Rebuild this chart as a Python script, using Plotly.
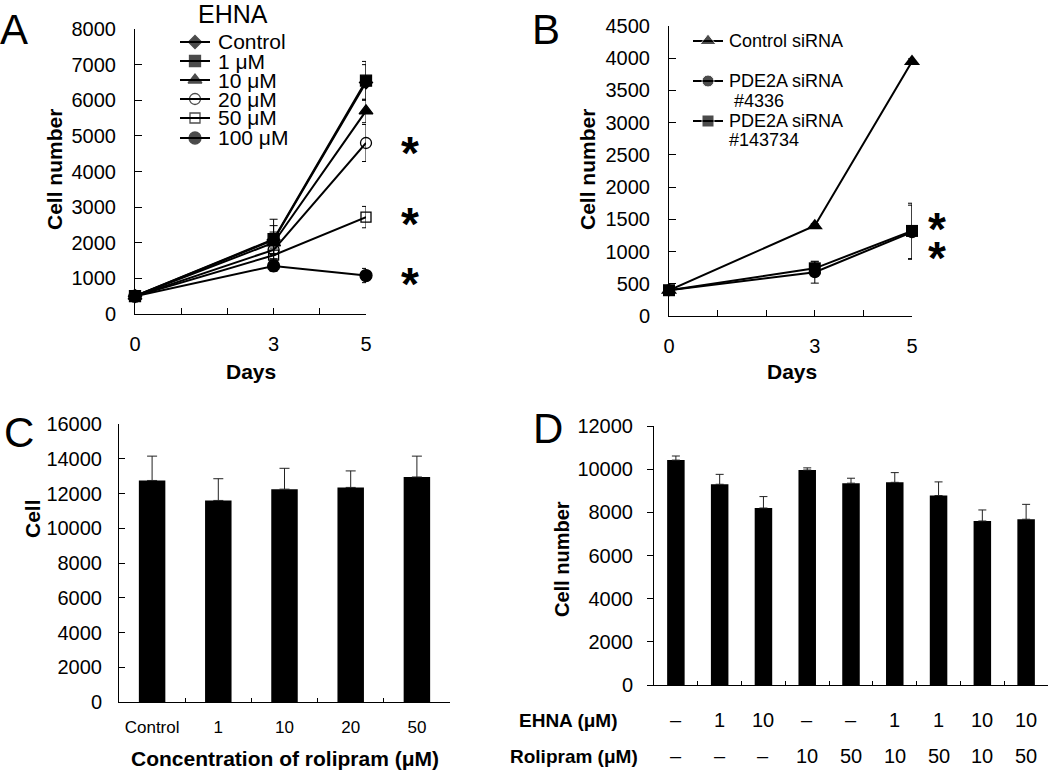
import plotly.graph_objects as go

FONT = "Liberation Sans, Arial, sans-serif"
W, H = 1050, 772

# ---- data -------------------------------------------------------------
days = [0, 3, 5]

# panel A: EHNA dose series
ehna_names = ["Control", "1 μM", "10 μM", "20 μM", "50 μM", "100 μM"]
ehna_values = [
    [500, 2080, 6500],
    [500, 2100, 6550],
    [500, 2000, 5700],
    [500, 1800, 4800],
    [500, 1650, 2720],
    [500, 1350, 1080],
]
ehna_errors = [
    [0, 400, 500],
    [0, 560, 540],
    [0, 300, 330],
    [0, 250, 520],
    [0, 200, 300],
    [0, 150, 200],
]
ehna_symbols = ["diamond", "square", "triangle-up", "circle-open", "square-open", "circle"]
ehna_sizes = [10, 11, 12, 11, 10, 12]
ehna_star_levels = [4700, 2700, 1000]

# panel B: siRNA
sirna_names = [["Control siRNA"], ["PDE2A siRNA", " #4336"], ["PDE2A siRNA", "#143734"]]
sirna_values = [
    [400, 1400, 3950],
    [400, 680, 1300],
    [400, 740, 1320],
]
sirna_errors = [
    [0, 30, 40],
    [0, 170, 420],
    [0, 100, 430],
]
sirna_symbols = ["triangle-up", "circle", "square"]
sirna_sizes = [14, 12, 12]
sirna_star_levels = [1440, 990]

# panel C: rolipram
rolipram_conc = ["Control", "1", "10", "20", "50"]
rolipram_cells = [12750, 11600, 12250, 12350, 12950]
rolipram_err = [1400, 1250, 1200, 950, 1200]

# panel D: EHNA + rolipram
combo_ehna = ["–", "1", "10", "–", "–", "1", "1", "10", "10"]
combo_rolipram = ["–", "–", "–", "10", "50", "10", "50", "10", "50"]
combo_cells = [10420, 9300, 8200, 9960, 9350, 9390, 8780, 7600, 7680]
combo_err = [190, 460, 530, 100, 230, 450, 630, 510, 690]


def px(x):
    return x / W


def py(y):
    return 1 - y / H


fig = go.Figure()

# panel A lines
for name, vals, err, sym, size in zip(ehna_names, ehna_values, ehna_errors, ehna_symbols, ehna_sizes):
    fig.add_trace(go.Scatter(
        x=days, y=vals, name=name, mode="lines+markers",
        line=dict(color="black", width=2),
        marker=dict(symbol=sym, size=size, color="black", line=dict(color="black", width=1.3)),
        error_y=dict(type="data", array=err, color="black", thickness=1, width=4),
        xaxis="x", yaxis="y", cliponaxis=False, showlegend=False,
    ))

# panel B lines
for name, vals, err, sym, size in zip(sirna_names, sirna_values, sirna_errors, sirna_symbols, sirna_sizes):
    fig.add_trace(go.Scatter(
        x=days, y=vals, name=" ".join(name), mode="lines+markers",
        line=dict(color="black", width=2),
        marker=dict(symbol=sym, size=size, color="black"),
        error_y=dict(type="data", array=err, color="black", thickness=1, width=4),
        xaxis="x2", yaxis="y2", cliponaxis=False, showlegend=False,
    ))

# panel C bars
fig.add_trace(go.Bar(
    x=rolipram_conc, y=rolipram_cells, width=0.4, marker_color="black",
    error_y=dict(type="data", array=rolipram_err, arrayminus=[0] * len(rolipram_err),
                 symmetric=False, color="#222", thickness=1, width=5),
    xaxis="x3", yaxis="y3", showlegend=False,
))

# panel D bars
combo_cats = [f"{e}/{r}" for e, r in zip(combo_ehna, combo_rolipram)]
fig.add_trace(go.Bar(
    x=combo_cats, y=combo_cells, width=0.4, marker_color="black",
    error_y=dict(type="data", array=combo_err, arrayminus=[0] * len(combo_err),
                 symmetric=False, color="#222", thickness=1, width=4),
    xaxis="x4", yaxis="y4", showlegend=False,
))

# hand-drawn legends (helper axis in pixel units)
ann = []


def text(t, x, y, size, bold=False, angle=0, xanchor="center", xref="paper", yref="paper"):
    ann.append(dict(
        text=f"<b>{t}</b>" if bold else t, x=x, y=y, xref=xref, yref=yref,
        xanchor=xanchor, yanchor="middle", textangle=angle, showarrow=False,
        font=dict(family=FONT, size=size, color="black"),
    ))


leg_a_rows = [42, 61, 80, 99, 118, 138]
for name, sym, size, row in zip(ehna_names, ehna_symbols, ehna_sizes, leg_a_rows):
    fig.add_trace(go.Scatter(
        x=[180, 195, 210], y=[row] * 3, mode="lines+markers",
        line=dict(color="black", width=2),
        marker=dict(symbol=sym, size=[0, size, 0], color="black", line=dict(color="black", width=1.3)),
        xaxis="x5", yaxis="y5", cliponaxis=False, showlegend=False, hoverinfo="skip",
    ))
    text(name, px(216), py(row), 21, xanchor="left")

leg_b_rows = [41, 81, 121]
for lines, sym, size, row in zip(sirna_names, sirna_symbols, sirna_sizes, leg_b_rows):
    fig.add_trace(go.Scatter(
        x=[693, 708, 723], y=[row] * 3, mode="lines+markers",
        line=dict(color="black", width=2),
        marker=dict(symbol=sym, size=[0, size, 0], color="black"),
        xaxis="x5", yaxis="y5", cliponaxis=False, showlegend=False, hoverinfo="skip",
    ))
    for k, line in enumerate(lines):
        text(line, px(727), py(row + 19.5 * k), 18, xanchor="left")

# titles and labels
text("EHNA", px(233), py(14), 25)
text("A", px(14), py(29), 42)
text("B", px(546), py(29), 42)
text("C", px(19), py(432), 42)
text("D", px(548), py(428), 42)

text("Cell number", px(54), py(170), 21, bold=True, angle=-90)
text("Cell number", px(587), py(170), 21, bold=True, angle=-90)
text("Cell", px(32), py(519), 21, bold=True, angle=-90)
text("Cell number", px(562), py(559), 20, bold=True, angle=-90)

text("Days", px(251), py(372), 21, bold=True)
text("Days", px(792), py(372), 21, bold=True)
text("Concentration of rolipram (μM)", px(285), py(758), 21, bold=True)

for lvl in ehna_star_levels:
    ann.append(dict(text="<b>*</b>", x=px(410), y=lvl, xref="paper", yref="y",
                    yanchor="middle", yshift=-6, showarrow=False,
                    font=dict(family=FONT, size=46, color="black")))
for lvl in sirna_star_levels:
    ann.append(dict(text="<b>*</b>", x=px(948), y=lvl, xref="paper", yref="y2",
                    yanchor="middle", yshift=-6, showarrow=False,
                    font=dict(family=FONT, size=46, color="black")))

# D treatment rows
text("EHNA (μM)", px(620), py(720), 19, bold=True, xanchor="right")
text("Rolipram (μM)", px(640), py(756), 19, bold=True, xanchor="right")
for cat, e, r in zip(combo_cats, combo_ehna, combo_rolipram):
    text(e, cat, py(720), 20, xref="x4")
    text(r, cat, py(756), 20, xref="x4")

axis = dict(showline=True, linecolor="black", linewidth=1, showgrid=False, zeroline=False,
            ticks="inside", tickcolor="black", ticklen=6, automargin=False,
            tickfont=dict(family=FONT, size=20, color="black"), fixedrange=True)

fig.update_layout(
    template="none",
    width=W, height=H,
    margin=dict(l=0, r=0, t=0, b=0, pad=0),
    paper_bgcolor="white", plot_bgcolor="rgba(0,0,0,0)",
    font=dict(family=FONT, color="black"),
    showlegend=False,
    annotations=ann,
    xaxis=dict(axis, domain=[px(135), px(366)], anchor="y", range=[0, 5],
               tickvals=[0, 1, 2, 3, 4, 5], ticktext=["0", "", "", "3", "", "5"],
               ticklabelstandoff=12),
    yaxis=dict(axis, domain=[py(314), py(29)], anchor="x", range=[0, 8000], dtick=1000,
               tickformat="d", ticklen=7, ticklabelstandoff=14),
    xaxis2=dict(axis, domain=[px(669), px(912)], anchor="y2", range=[0, 5],
                tickvals=[0, 1, 2, 3, 4, 5], ticktext=["0", "", "", "3", "", "5"],
                ticklabelstandoff=12),
    yaxis2=dict(axis, domain=[py(316), py(26)], anchor="x2", range=[0, 4500], dtick=500,
                tickformat="d", ticklen=7, ticklabelstandoff=14),
    xaxis3=dict(axis, domain=[px(119), px(450)], anchor="y3", type="category",
                tickson="boundaries", ticklen=4, ticklabelstandoff=10,
                tickfont=dict(family=FONT, size=17, color="black")),
    yaxis3=dict(axis, domain=[py(702), py(424)], anchor="x3", range=[0, 16000], dtick=2000,
                tickformat="d", ticklabelstandoff=12),
    xaxis4=dict(axis, domain=[px(654), px(1048)], anchor="y4", type="category",
                tickson="boundaries", ticklen=4, showticklabels=False),
    yaxis4=dict(axis, domain=[py(685), py(426)], anchor="x4", range=[0, 12000], dtick=2000,
                tickformat="d", ticks="outside", ticklabelstandoff=10),
    xaxis5=dict(domain=[0, 1], range=[0, W], visible=False, fixedrange=True, anchor="y5"),
    yaxis5=dict(domain=[0, 1], range=[H, 0], visible=False, fixedrange=True, anchor="x5"),
    bargap=0.6,
)

# drop the default page margin so the figure sits at the window origin
fig.write_html("out.html", config={"displayModeBar": False},
               post_script="document.body.style.margin='0px';")
